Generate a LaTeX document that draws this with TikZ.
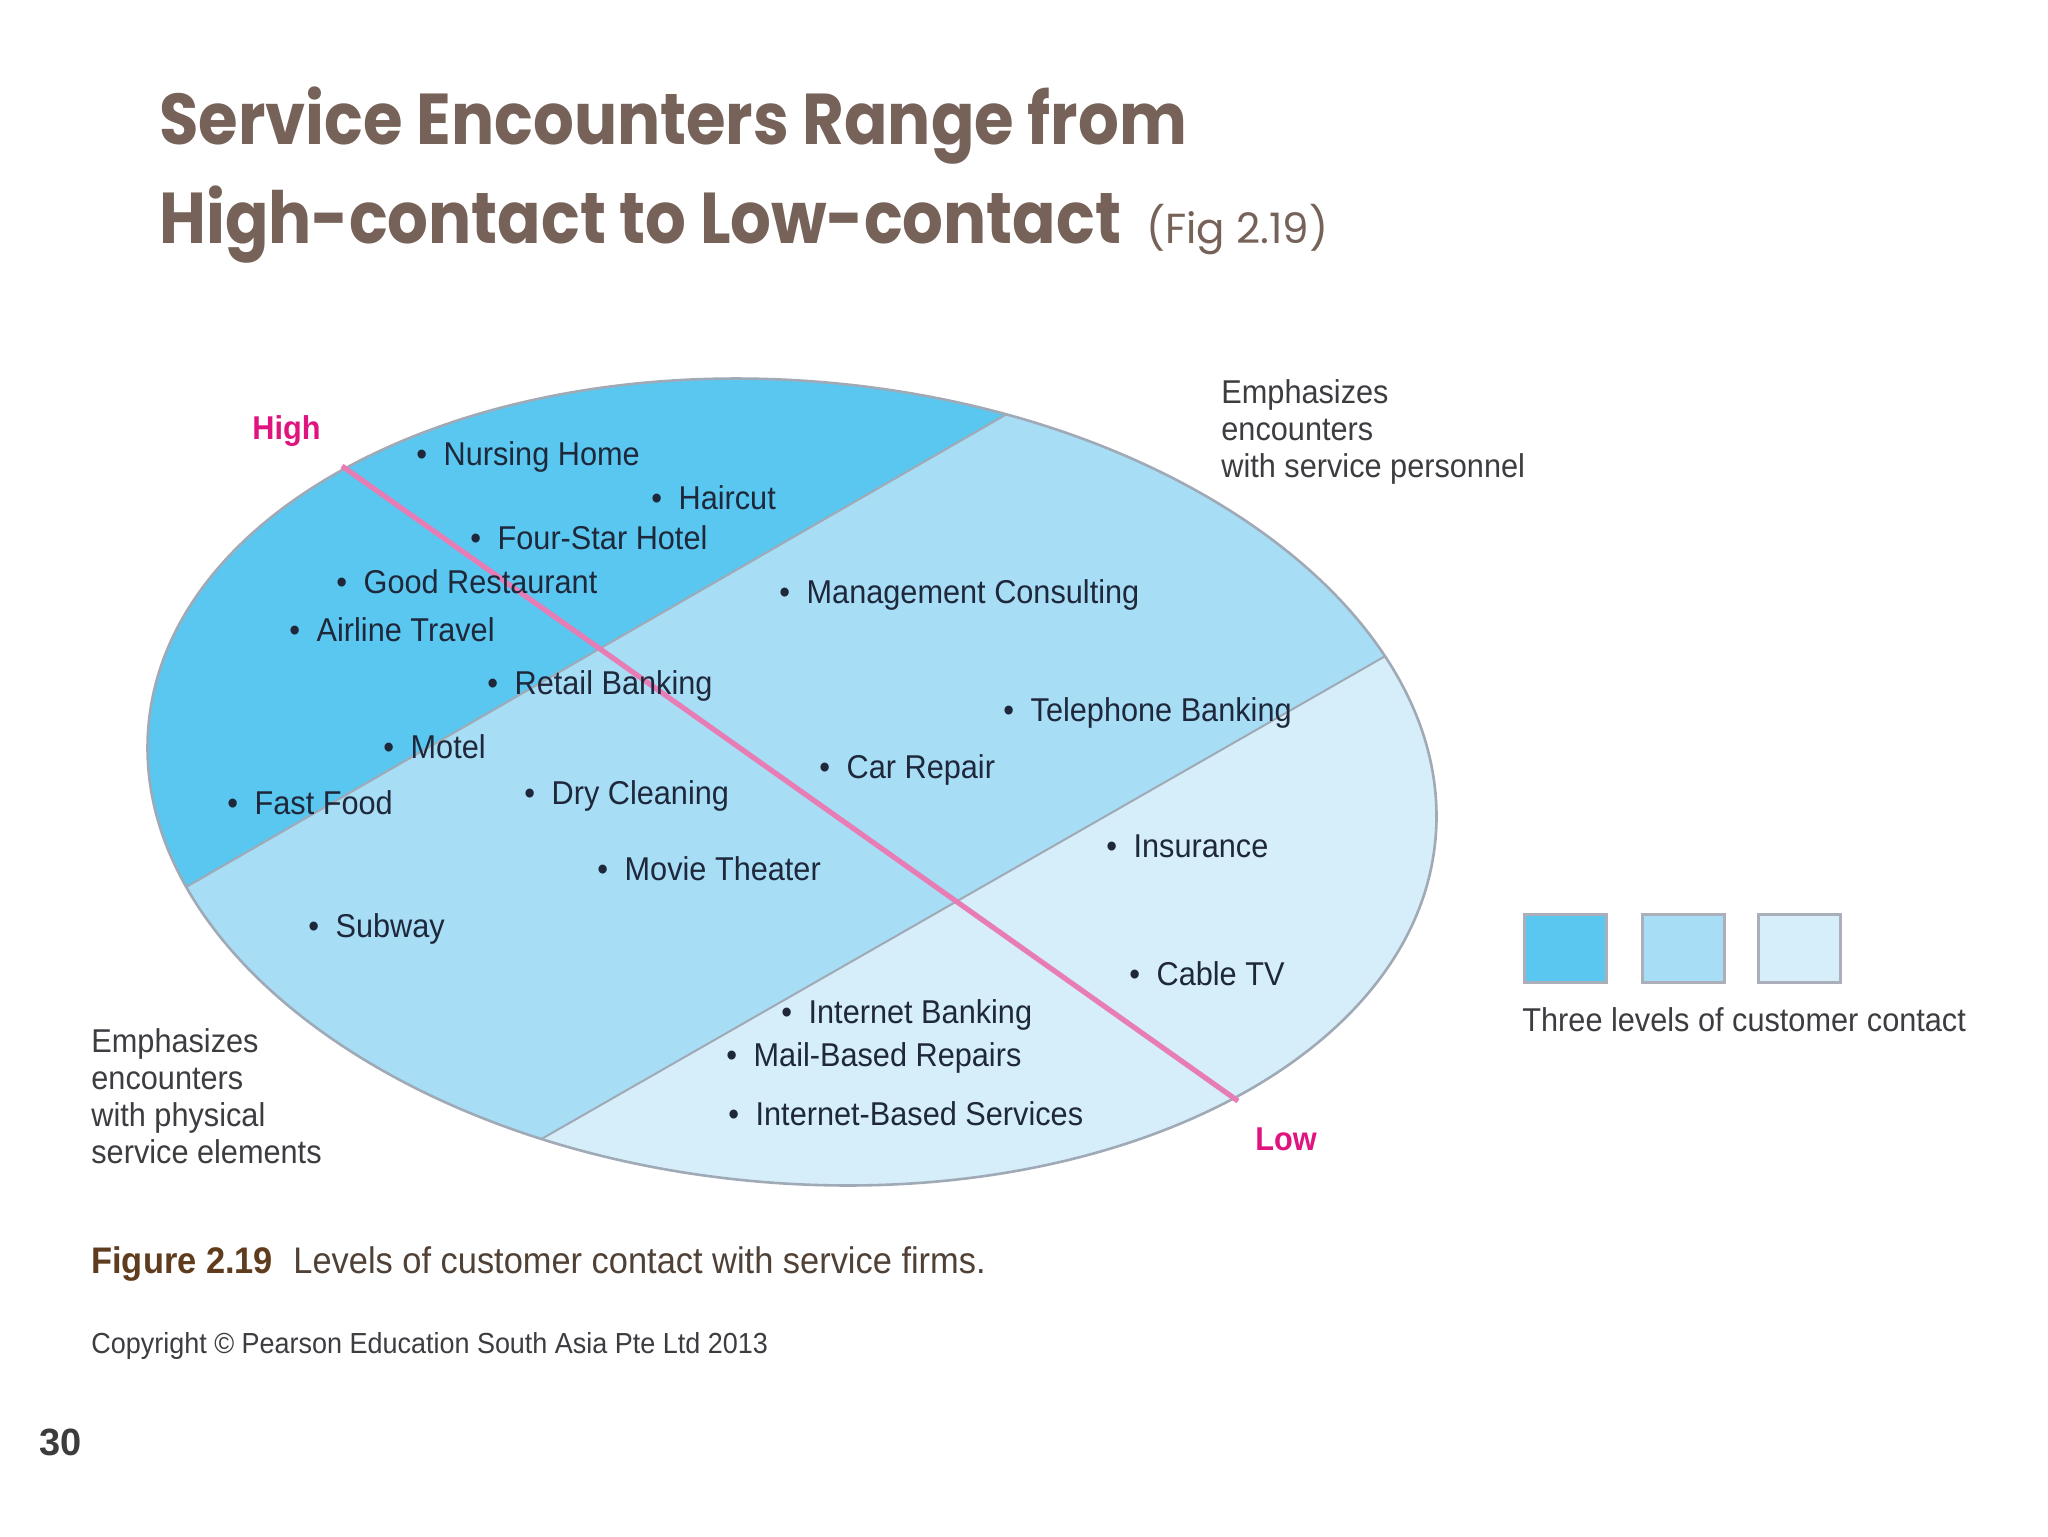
\documentclass[tikz,border=0pt]{standalone}
\usepackage{fontspec}
\setmainfont{Liberation Sans}
\newfontfamily\cond[FakeStretch=0.93]{Liberation Sans}
\newfontfamily\titlef[FakeStretch=0.89]{Poppins}
\newfontfamily\titler{Poppins}
\definecolor{dark}{RGB}{90,199,240}
\definecolor{mid}{RGB}{168,221,246}
\definecolor{light}{RGB}{213,238,250}
\definecolor{edge}{RGB}{160,170,182}
\definecolor{pinkl}{RGB}{232,124,180}
\definecolor{mag}{RGB}{224,20,127}
\definecolor{itemc}{RGB}{30,40,58}
\definecolor{titlec}{RGB}{118,98,88}
\definecolor{notec}{RGB}{60,60,65}
\definecolor{figc}{RGB}{95,60,30}
\definecolor{capc}{RGB}{80,65,55}
\definecolor{numc}{RGB}{60,60,60}
\definecolor{legedge}{RGB}{170,175,185}
\newcommand\itm[1]{\textbullet\hspace{0.5em}#1}
\tikzset{
  item/.style={anchor=base west, inner sep=0pt, text=itemc, font=\cond\fontsize{16.5}{19}\selectfont},
  note/.style={anchor=north west, inner sep=0pt, text=notec, align=left, font=\cond\fontsize{16.5}{18.5}\selectfont},
  pole/.style={anchor=base west, inner sep=0pt, text=mag, font=\cond\bfseries\fontsize{16.5}{19}\selectfont},
  ttl/.style={anchor=base west, inner sep=0pt, text=titlec, font=\titlef\bfseries\fontsize{36}{40}\selectfont},
  legbox/.style={draw=legedge, line width=1.5pt, minimum width=41pt, minimum height=34pt, inner sep=0pt},
  divline/.style={draw=edge, line width=1pt},
  rim/.style={draw=edge, line width=1.3pt},
  axisline/.style={draw=pinkl, line width=2.6pt},
}
\begin{document}
\begin{tikzpicture}[x=0.5pt, y=-0.5pt]
\useasboundingbox (0,0) rectangle (2048,1536);
\fill[white] (0,0) rectangle (2048,1536);

% title
\node[ttl] (t1) at (159,144) {Service Encounters Range from};
\node[ttl] (t2) at (159,243) {High-contact to Low-contact};
\node[anchor=base west, inner sep=0pt, text=titlec, font=\titler\fontsize{21}{24}\selectfont] (t3) at ([xshift=12pt]t2.base east) {(Fig 2.19)};

% division line coordinates
\coordinate (L1a) at (-48,1022);
\coordinate (L1b) at (1236,282);
\coordinate (L2a) at (302,1276);
\coordinate (L2b) at (1623,520);
\coordinate (Ptop) at (342,466);
\coordinate (Pbot) at (1238,1101);

\begin{scope}
  \clip[shift={(792,782)}, rotate=-5] (0,0) ellipse [x radius=646, y radius=401];
  \fill[light] (0,200) rectangle (1700,1400);
  \fill[mid] (L2a) -- (L2b) -- (1700,200) -- (-60,200) -- (-60,1276) -- cycle;
  \fill[dark] (L1a) -- (L1b) -- (1236,200) -- (-60,200) -- cycle;
  \draw[divline] (L1a) -- (L1b);
  \draw[divline] (L2a) -- (L2b);
\end{scope}
\draw[rim, shift={(792,782)}, rotate=-5] (0,0) ellipse [x radius=646, y radius=401];
\draw[axisline] (Ptop) -- (Pbot);

\node[pole] (high) at (252,439) {High};
\node[pole] (low) at (1255,1150) {Low};

% items
\node[item] (i1) at (416,465) {\itm{Nursing Home}};
\node[item] (i2) at (651,509) {\itm{Haircut}};
\node[item] (i3) at (470,549) {\itm{Four-Star Hotel}};
\node[item] (i4) at (336,593) {\itm{Good Restaurant}};
\node[item] (i5) at (289,641) {\itm{Airline Travel}};
\node[item] (i6) at (487,694) {\itm{Retail Banking}};
\node[item] (i7) at (383,758) {\itm{Motel}};
\node[item] (i8) at (227,814) {\itm{Fast Food}};
\node[item] (i9) at (524,804) {\itm{Dry Cleaning}};
\node[item] (i10) at (597,880) {\itm{Movie Theater}};
\node[item] (i11) at (308,937) {\itm{Subway}};
\node[item] (i12) at (779,603) {\itm{Management Consulting}};
\node[item] (i13) at (1003,721) {\itm{Telephone Banking}};
\node[item] (i14) at (819,778) {\itm{Car Repair}};
\node[item] (i15) at (1106,857) {\itm{Insurance}};
\node[item] (i16) at (1129,985) {\itm{Cable TV}};
\node[item] (i17) at (781,1023) {\itm{Internet Banking}};
\node[item] (i18) at (726,1066) {\itm{Mail-Based Repairs}};
\node[item] (i19) at (728,1125) {\itm{Internet-Based Services}};

% side notes
\node[note] (n1) at (1221,379) {Emphasizes\\encounters\\with service personnel};
\node[note] (n2) at (91,1028) {Emphasizes\\encounters\\with physical\\service elements};

% legend
\node[legbox, fill=dark] (sq1) at (1565,948) {};
\node[legbox, fill=mid] (sq2) at (1683,948) {};
\node[legbox, fill=light] (sq3) at (1799,948) {};
\node[anchor=base west, inner sep=0pt, text=notec, font=\cond\fontsize{16.5}{19}\selectfont] (leg) at (1522,1031) {Three levels of customer contact};

% caption
\node[anchor=base west, inner sep=0pt, font=\cond\fontsize{18.5}{22}\selectfont] (cap) at (91,1273)
  {\textcolor{figc}{\bfseries Figure 2.19}\hspace{0.55em}\textcolor{capc}{Levels of customer contact with service firms.}};
\node[anchor=base west, inner sep=0pt, text=notec, font=\cond\fontsize{14.5}{17}\selectfont] (copy) at (91,1353)
  {Copyright \textcopyright{} Pearson Education South Asia Pte Ltd 2013};
\node[anchor=base west, inner sep=0pt, text=numc, font=\bfseries\fontsize{19}{22}\selectfont] (pg) at (39,1455) {30};
\end{tikzpicture}
\end{document}
